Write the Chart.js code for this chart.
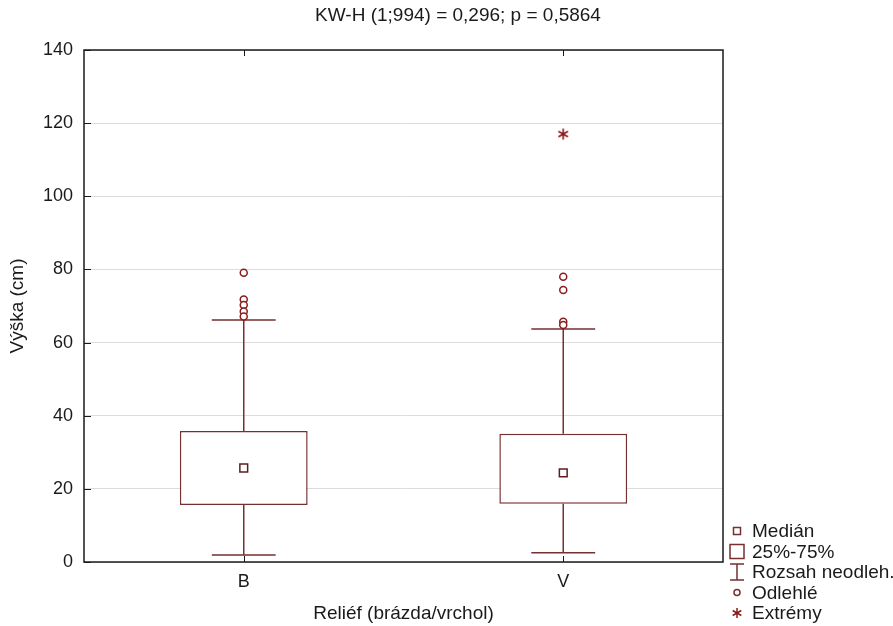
<!DOCTYPE html>
<html>
<head>
<meta charset="utf-8">
<script src="https://cdn.jsdelivr.net/npm/chart.js@4/dist/chart.umd.min.js"></script>
<style>
  html, body { margin: 0; padding: 0; background: #fff; }
</style>
</head>
<body>
<canvas id="myChart" width="893" height="626"></canvas>
<script>
// values
const categories = ["B", "V"];
const q1 = [15.6, 15.9];
const q3 = [35.8, 35.1];
const medians = [25.7, 24.4];
const whiskerLow = [1.9, 2.5];
const whiskerHigh = [66.2, 63.7];
const outliersB = [79.1, 71.8, 70.3, 68.5, 67.1];
const outliersV = [78.0, 74.4, 65.7, 64.8];
const extremesB = [];
const extremesV = [117.0];
const titleText = "KW-H (1;994) = 0,296; p = 0,5864";
const legendLabels = ["Medián", "25%-75%", "Rozsah neodleh.", "Odlehlé", "Extrémy"];

const lineColor = "#76302f";
const pointColor = "#8b1c1c";
const textColor = "#1a1a1a";
const fontFamily = '"Liberation Sans", Arial, sans-serif';
const capHalf = 0.1;

Chart.defaults.font.family = fontFamily;
Chart.defaults.color = textColor;

const boxData = categories.map((c, i) => ({ x: i, y: [q1[i], q3[i]] }));
const medianData = categories.map((c, i) => ({ x: i, y: medians[i] }));

const whiskerData = [];
categories.forEach((c, i) => {
  whiskerData.push({ x: i, y: q3[i] }, { x: i, y: whiskerHigh[i] }, { x: i, y: null });
  whiskerData.push({ x: i - capHalf, y: whiskerHigh[i] }, { x: i + capHalf, y: whiskerHigh[i] }, { x: i, y: null });
  whiskerData.push({ x: i, y: q1[i] }, { x: i, y: whiskerLow[i] }, { x: i, y: null });
  whiskerData.push({ x: i - capHalf, y: whiskerLow[i] }, { x: i + capHalf, y: whiskerLow[i] }, { x: i, y: null });
});

const outlierData = outliersB.map(v => ({ x: 0, y: v }))
  .concat(outliersV.map(v => ({ x: 1, y: v })));
const extremeData = extremesB.map(v => ({ x: 0, y: v }))
  .concat(extremesV.map(v => ({ x: 1, y: v })));

// six armed asterisk, like the one Statistica uses
const drawAsterisk = (ctx, x, y, r) => {
  for (let j = 0; j < 3; j++) {
    const ang = Math.PI / 2 + j * Math.PI / 3;
    ctx.moveTo(x - r * Math.cos(ang), y - r * Math.sin(ang));
    ctx.lineTo(x + r * Math.cos(ang), y + r * Math.sin(ang));
  }
};

const starImg = document.createElement("canvas");
starImg.width = 14;
starImg.height = 14;
(() => {
  const c = starImg.getContext("2d");
  c.strokeStyle = pointColor;
  c.lineWidth = 1.6;
  c.beginPath();
  drawAsterisk(c, 7, 7, 5.5);
  c.stroke();
})();

// title centred like in the original
const titlePlugin = {
  id: "topTitle",
  afterDraw(chart) {
    const ctx = chart.ctx;
    ctx.save();
    ctx.fillStyle = textColor;
    ctx.font = "19px " + fontFamily;
    ctx.textAlign = "center";
    ctx.textBaseline = "middle";
    ctx.fillText(titleText, 458, 16);
    ctx.restore();
  }
};

// frame around the plot with small inward ticks
const framePlugin = {
  id: "frame",
  afterDatasetsDraw(chart) {
    const { ctx, chartArea: a, scales } = chart;
    ctx.save();
    ctx.strokeStyle = textColor;
    ctx.lineWidth = 1.5;
    ctx.strokeRect(a.left, a.top, a.right - a.left, a.bottom - a.top);
    ctx.lineWidth = 1;
    ctx.beginPath();
    scales.y.ticks.forEach(t => {
      const y = Math.round(scales.y.getPixelForValue(t.value)) + 0.5;
      ctx.moveTo(a.left, y);
      ctx.lineTo(a.left + 7, y);
    });
    scales.x.ticks.forEach(t => {
      const x = Math.round(scales.x.getPixelForValue(t.value)) + 0.5;
      ctx.moveTo(x, a.top);
      ctx.lineTo(x, a.top + 6);
      ctx.moveTo(x, a.bottom);
      ctx.lineTo(x, a.bottom - 6);
    });
    ctx.stroke();
    ctx.restore();
  }
};

// legend in the lower right corner
const legendPlugin = {
  id: "boxLegend",
  afterDraw(chart) {
    const ctx = chart.ctx;
    const sx = 737, tx = 752;
    const rows = [531, 551.5, 572, 592.5, 613];
    ctx.save();
    ctx.strokeStyle = lineColor;
    ctx.lineWidth = 1.5;
    rows.forEach((y, k) => {
      ctx.beginPath();
      if (k === 0) {
        ctx.rect(sx - 3.5, y - 3.5, 7, 7);
      } else if (k === 1) {
        ctx.rect(sx - 7, y - 7, 14, 14);
      } else if (k === 2) {
        ctx.moveTo(sx, y - 8); ctx.lineTo(sx, y + 8);
        ctx.moveTo(sx - 7, y - 8); ctx.lineTo(sx + 7, y - 8);
        ctx.moveTo(sx - 7, y + 8); ctx.lineTo(sx + 7, y + 8);
      } else if (k === 3) {
        ctx.arc(sx, y, 3, 0, Math.PI * 2);
      } else {
        ctx.strokeStyle = pointColor;
        drawAsterisk(ctx, sx, y, 5);
      }
      ctx.stroke();
    });
    ctx.fillStyle = textColor;
    ctx.font = "19px " + fontFamily;
    ctx.textBaseline = "middle";
    ctx.textAlign = "left";
    legendLabels.forEach((txt, k) => ctx.fillText(txt, tx, rows[k] + 1));
    ctx.restore();
  }
};

new Chart(document.getElementById("myChart"), {
  type: "bar",
  data: {
    datasets: [
      {
        type: "line",
        data: medianData,
        showLine: false,
        pointStyle: "rect",
        pointRadius: 5.5,
        pointBorderWidth: 1.5,
        pointBackgroundColor: "#fff",
        pointBorderColor: "#5a1f1f",
        order: 0
      },
      {
        type: "line",
        data: outlierData,
        showLine: false,
        pointStyle: "circle",
        pointRadius: 3.5,
        pointBorderWidth: 1.5,
        pointBackgroundColor: "#fff",
        pointBorderColor: pointColor,
        order: 1
      },
      {
        type: "line",
        data: extremeData,
        showLine: false,
        pointStyle: starImg,
        order: 1
      },
      {
        type: "line",
        data: whiskerData,
        borderColor: lineColor,
        borderWidth: 1.5,
        pointRadius: 0,
        spanGaps: false,
        tension: 0,
        order: 3
      },
      {
        type: "bar",
        data: boxData,
        backgroundColor: "#fff",
        borderColor: lineColor,
        borderWidth: 1.5,
        borderSkipped: false,
        barPercentage: 0.4,
        categoryPercentage: 1,
        order: 4
      }
    ]
  },
  options: {
    responsive: false,
    animation: false,
    layout: { padding: { top: 50, right: 170 } },
    plugins: {
      legend: { display: false },
      tooltip: { enabled: false },
      title: { display: false }
    },
    scales: {
      x: {
        type: "linear",
        min: -0.5,
        max: 1.5,
        offset: false,
        afterBuildTicks: s => { s.ticks = categories.map((c, i) => ({ value: i })); },
        afterFit: s => { s.height = 64; },
        grid: { display: false, drawTicks: false },
        border: { display: false },
        ticks: {
          callback: v => categories[v],
          font: { size: 18 },
          color: textColor,
          padding: 9,
          maxRotation: 0
        },
        title: {
          display: true,
          text: "Reliéf (brázda/vrchol)",
          font: { size: 19 },
          color: textColor,
          padding: { top: 0, bottom: 1 }
        }
      },
      y: {
        min: 0,
        max: 140,
        afterFit: s => { s.width = 84; },
        grid: { color: "#dcdcdc", lineWidth: 1, drawTicks: false },
        border: { display: false },
        ticks: {
          stepSize: 20,
          font: { size: 18 },
          color: textColor,
          padding: 11
        },
        title: {
          display: true,
          text: "Výška (cm)",
          font: { size: 19 },
          color: textColor,
          padding: { top: 6.6, bottom: 0 }
        }
      }
    }
  },
  plugins: [framePlugin, legendPlugin, titlePlugin]
});
</script>
</body>
</html>
